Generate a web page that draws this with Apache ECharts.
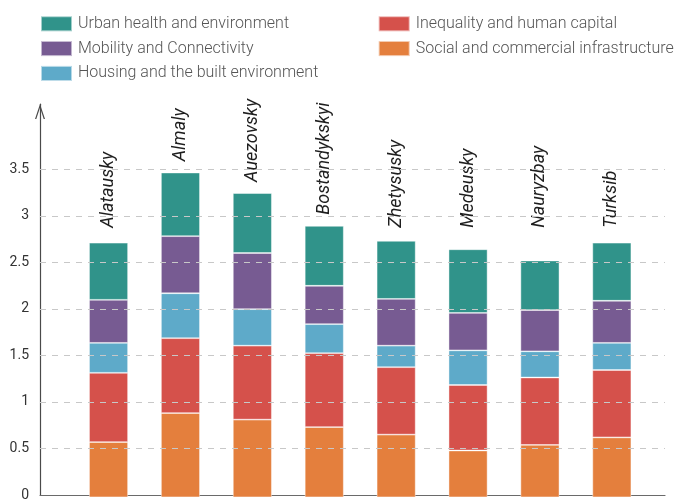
<!DOCTYPE html>
<html>
<head>
<meta charset="utf-8">
<script src="https://cdn.jsdelivr.net/npm/echarts@6/dist/echarts.min.js"></script>
<style>
  html, body { margin: 0; padding: 0; background: #fff; }
  #chart { width: 686px; height: 502px; }
</style>
</head>
<body>
<div id="chart"></div>
<script>
// districts, left to right
const districts = ['Alatausky', 'Almaly', 'Auezovsky', 'Bostandykskyi', 'Zhetysusky', 'Medeusky', 'Nauryzbay', 'Turksib']

// stacked bottom-up
const socialInfra = [0.59, 0.90, 0.83, 0.75, 0.67, 0.50, 0.56, 0.64]
const inequality  = [0.74, 0.80, 0.79, 0.79, 0.72, 0.70, 0.72, 0.72]
const housing     = [0.32, 0.48, 0.39, 0.31, 0.23, 0.37, 0.28, 0.29]
const mobility    = [0.46, 0.61, 0.60, 0.41, 0.50, 0.40, 0.44, 0.45]
const urbanHealth = [0.61, 0.68, 0.64, 0.64, 0.62, 0.68, 0.53, 0.62]

const yTicks = [0.5, 1, 1.5, 2, 2.5, 3, 3.5]

const names = {
  health: 'Urban health and environment',
  mobility: 'Mobility and Connectivity',
  housing: 'Housing and the built environment',
  inequality: 'Inequality and human capital',
  social: 'Social and commercial infrastructure'
}
const colors = {
  health: '#30938a',
  mobility: '#775b92',
  housing: '#5eaac9',
  inequality: '#d5514b',
  social: '#e47f3d'
}

const chart = echarts.init(document.getElementById('chart'))

const totals = districts.map((d, i) =>
  socialInfra[i] + inequality[i] + housing[i] + mobility[i] + urbanHealth[i])

const Y_MAX = 4.2
const plotTop = 104.2
const plotBottom = 4.7

function barSeries(key, values) {
  return {
    name: names[key],
    type: 'bar',
    stack: 'total',
    xAxisIndex: 1,
    yAxisIndex: 1,
    barWidth: 39,
    itemStyle: { color: colors[key], borderColor: 'rgba(255,255,255,0.55)', borderWidth: 0.8 },
    data: values
  }
}

const legendText = {
  color: '#555', fontSize: 16, fontFamily: 'Roboto', fontWeight: 300,
  lineHeight: 15, padding: [0, 0, 0, 1]
}

function buildOption(labelDist) {
  const top = barSeries('health', urbanHealth)
  top.data = urbanHealth.map((v, i) => ({ value: v, label: { distance: labelDist[i] } }))
  top.label = {
    show: true,
    position: 'top',
    rotate: 90,
    align: 'left',
    verticalAlign: 'middle',
    formatter: p => districts[p.dataIndex],
    color: '#1e1e1e',
    fontSize: 18,
    fontStyle: 'italic',
    fontFamily: 'Roboto'
  }
  return {
    animation: false,
    legend: [
      {
        left: 40, top: 15.3, padding: 0, orient: 'vertical', itemWidth: 31, itemHeight: 15, itemGap: 7.8,
        icon: 'rect', textStyle: legendText,
        data: [names.health, names.mobility, names.housing]
      },
      {
        left: 377.7, top: 15.3, padding: 0, orient: 'vertical', itemWidth: 31, itemHeight: 15, itemGap: 7.8,
        icon: 'rect', textStyle: legendText,
        data: [names.inequality, names.social]
      }
    ],
    grid: [
      // frame: axis lines, ticks, gridlines
      { left: 40, right: 21, top: plotTop, bottom: plotBottom },
      // bars
      { left: 72.6, right: 38.2, top: plotTop, bottom: plotBottom }
    ],
    xAxis: [
      {
        gridIndex: 0,
        type: 'value',
        min: 0,
        max: 1,
        axisLine: { lineStyle: { color: '#6a6a6a', width: 1.2 } },
        axisTick: { show: false },
        axisLabel: { show: false },
        splitLine: { show: false }
      },
      {
        gridIndex: 1,
        type: 'category',
        data: districts,
        show: false
      }
    ],
    yAxis: [
      {
        gridIndex: 0,
        type: 'value',
        min: 0,
        max: Y_MAX,
        interval: 0.5,
        axisLine: {
          show: true,
          onZero: false,
          // open chevron arrow head
          symbol: ['none', 'path://M0,15 L5,0 L10,15 L8.7,15 L5,3.8 L1.3,15 Z'],
          symbolSize: [10, 15],
          symbolOffset: [0, -7.2],
          lineStyle: { color: '#4a4a4a', width: 1.2 }
        },
        axisTick: { show: false },
        splitLine: { show: false },
        axisLabel: {
          color: '#333',
          fontSize: 14,
          fontFamily: 'Roboto',
          margin: 11,
          formatter: v => (v > 3.5 + 1e-9 ? '' : String(v))
        }
      },
      {
        gridIndex: 1,
        type: 'value',
        min: 0,
        max: Y_MAX,
        show: false
      }
    ],
    series: [
      {
        type: 'line',
        xAxisIndex: 0,
        yAxisIndex: 0,
        data: [],
        silent: true,
        markLine: {
          silent: true,
          symbol: 'none',
          label: { show: false },
          lineStyle: { color: '#c8c8c8', type: [6, 6], width: 1 },
          data: yTicks.map(t => ({ yAxis: t }))
        }
      },
      barSeries('social', socialInfra),
      barSeries('inequality', inequality),
      barSeries('housing', housing),
      barSeries('mobility', mobility),
      top
    ]
  }
}

// labels sit above each bar, but never lower than a common baseline
const labelBase = 2.88
const labelGap = 0.12
chart.setOption(buildOption(districts.map(() => 10)))
const px = v => chart.convertToPixel({ yAxisIndex: 1 }, v)
const dists = totals.map(t => px(t) - px(Math.max(t + labelGap, labelBase)))
chart.setOption(buildOption(dists))
</script>
</body>
</html>
